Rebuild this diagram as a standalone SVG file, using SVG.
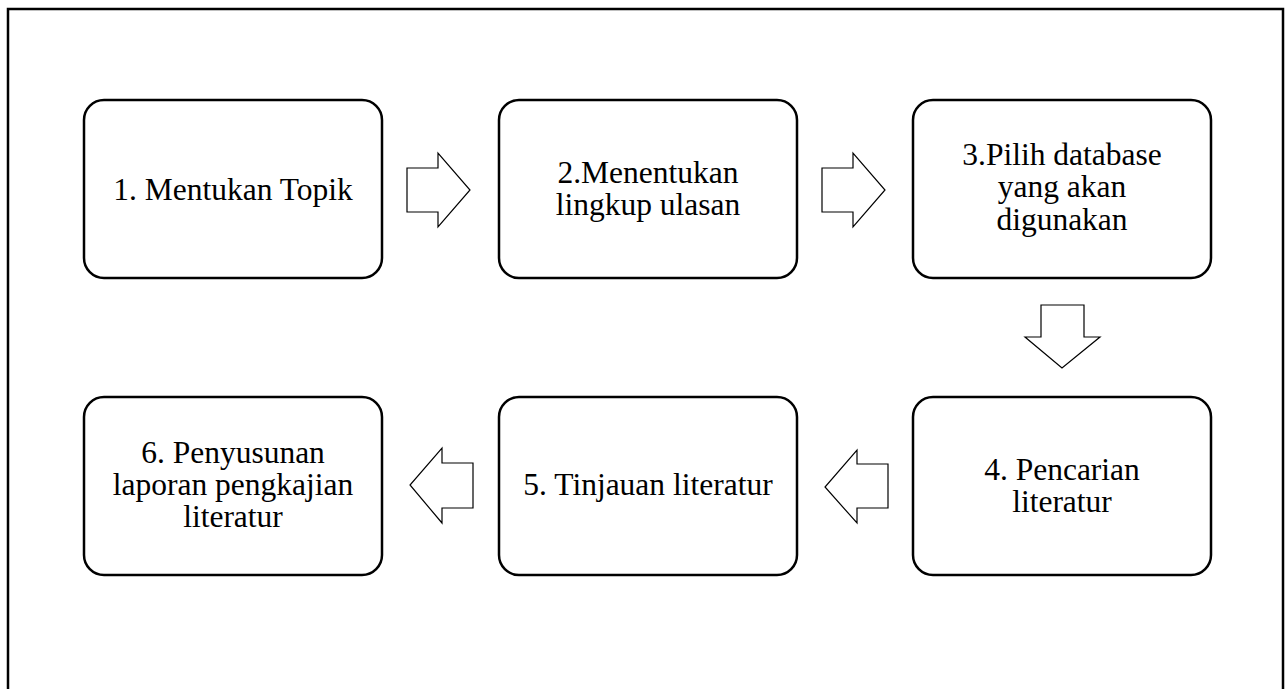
<svg xmlns="http://www.w3.org/2000/svg" width="1286" height="689" viewBox="0 0 1286 689">
<style>
.frame{fill:none;stroke:#000;stroke-width:2.5}
.box{fill:#fff;stroke:#000;stroke-width:2.5}
.arr{fill:#fff;stroke:#000;stroke-width:1.2;stroke-linejoin:miter}
.t{font-family:'Liberation Serif','Times New Roman',Times,serif;font-size:31.5px;fill:#000;text-anchor:middle}
</style>
<rect width="1286" height="689" fill="#fff"/>
<rect class="frame" x="8" y="9" width="1275" height="700"/>
<g id="connectors">
<polygon class="arr" points="407,168 438,168 438,153 470,190 438,227 438,212 407,212"/>
<polygon class="arr" points="822,168 853,168 853,153 885,190 853,227 853,212 822,212"/>
<polygon class="arr" points="1041,305 1084,305 1084,337 1100,337 1062,368 1025,337 1041,337"/>
<polygon class="arr" points="888,464 857,464 857,450 825,487 857,523 857,508 888,508"/>
<polygon class="arr" points="473,463 442,463 442,448 410,485 442,523 442,508 473,508"/>
</g>
<g id="node1">
<rect class="box" x="84" y="100" width="298" height="178" rx="20"/>
<text class="t" x="233" y="200">1. Mentukan Topik</text>
</g>
<g id="node2">
<rect class="box" x="499" y="100" width="298" height="178" rx="20"/>
<text class="t" x="648" y="183">2.Menentukan</text>
<text class="t" x="648" y="215">lingkup ulasan</text>
</g>
<g id="node3">
<rect class="box" x="913" y="100" width="298" height="178" rx="20"/>
<text class="t" x="1062" y="165">3.Pilih database</text>
<text class="t" x="1062" y="197">yang akan</text>
<text class="t" x="1062" y="230">digunakan</text>
</g>
<g id="node4">
<rect class="box" x="913" y="397" width="298" height="178" rx="20"/>
<text class="t" x="1062" y="480">4. Pencarian</text>
<text class="t" x="1062" y="512">literatur</text>
</g>
<g id="node5">
<rect class="box" x="499" y="397" width="298" height="178" rx="20"/>
<text class="t" x="648" y="495">5. Tinjauan literatur</text>
</g>
<g id="node6">
<rect class="box" x="84" y="397" width="298" height="178" rx="20"/>
<text class="t" x="233" y="463">6. Penyusunan</text>
<text class="t" x="233" y="495">laporan pengkajian</text>
<text class="t" x="233" y="527">literatur</text>
</g>
</svg>
